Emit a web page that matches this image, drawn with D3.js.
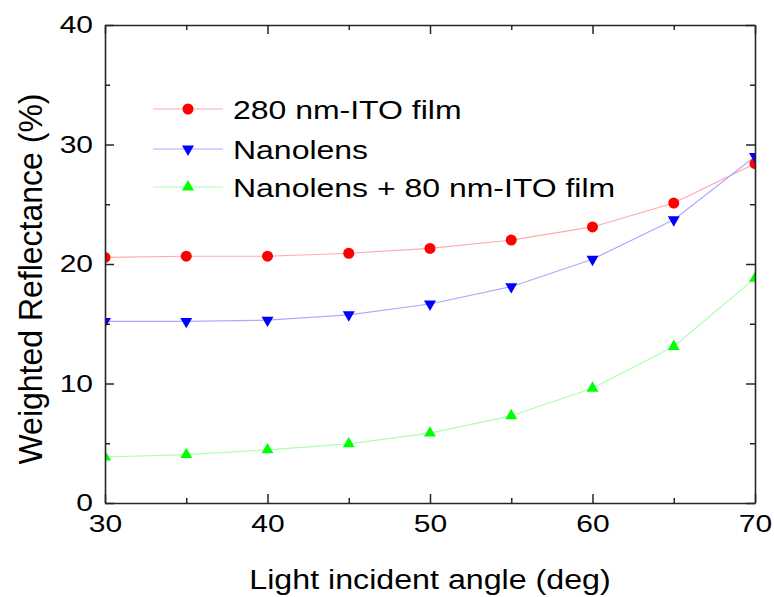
<!DOCTYPE html>
<html>
<head>
<meta charset="utf-8">
<script src="https://cdn.jsdelivr.net/npm/d3@7"></script>
<style>
  body { margin: 0; background: #fff; }
  svg text { font-family: "Liberation Sans", Arial, sans-serif; fill: #000; }
  .domain, .tick line { stroke: #262626; }
</style>
</head>
<body>
<script>
var angles = [30, 35, 40, 45, 50, 55, 60, 65, 70];
var ito280 = [20.55, 20.65, 20.65, 20.9, 21.3, 22.0, 23.1, 25.1, 28.4];
var nanolens = [15.2, 15.2, 15.3, 15.75, 16.65, 18.1, 20.4, 23.7, 29.0];
var nanolensIto = [3.85, 4.05, 4.45, 4.95, 5.85, 7.3, 9.6, 13.1, 18.8];

var seriesNames = ['280 nm-ITO film', 'Nanolens', 'Nanolens + 80 nm-ITO film'];
var xTicks = [30, 40, 50, 60, 70],
    xMinor = [35, 45, 55, 65],
    yTicks = [0, 10, 20, 30, 40],
    yMinor = [5, 15, 25, 35];

var width = 774, height = 597;
// plot box (note: "top" is reserved on window, so prefix these)
var pLeft = 105, pRight = 755, pTop = 25, pBottom = 503;
// text in the picture is drawn a bit wide
var tickStretch = 1.25, legendStretch = 1.23, titleStretch = 1.15;

var series = [
    {name: seriesNames[0], values: ito280, marker: 'circle', color: '#ff0000', line: '#ffaaaa'},
    {name: seriesNames[1], values: nanolens, marker: 'down', color: '#0000ff', line: '#aaaaff'},
    {name: seriesNames[2], values: nanolensIto, marker: 'up', color: '#00ff00', line: '#aaffaa'}
];

var svg = d3.select('body').append('svg')
    .attr('width', width)
    .attr('height', height);

var x = d3.scaleLinear().domain([30, 70]).range([pLeft, pRight]);
var y = d3.scaleLinear().domain([0, 40]).range([pBottom, pTop]);

svg.append('defs').append('clipPath')
    .attr('id', 'plot')
    .append('rect')
    .attr('x', pLeft).attr('y', pTop)
    .attr('width', pRight - pLeft).attr('height', pBottom - pTop);

function markerPath(kind) {
    if (kind === 'circle') return d3.symbol().type(d3.symbolCircle).size(95)();
    return d3.symbol().type(d3.symbolTriangle).size(62)();
}
function markerTransform(kind, px, py) {
    var t = 'translate(' + px + ',' + py + ')';
    if (kind === 'down') t += ' rotate(180)';
    return t;
}

var line = d3.line()
    .x(function(d, i) { return x(angles[i]); })
    .y(function(d) { return y(d); });

var plot = svg.append('g').attr('clip-path', 'url(#plot)');

series.forEach(function(s) {
    plot.append('path')
        .attr('d', line(s.values))
        .attr('fill', 'none')
        .attr('stroke', s.line)
        .attr('stroke-width', 1.2);
});
series.forEach(function(s) {
    plot.selectAll(null)
        .data(s.values).enter()
        .append('path')
        .attr('d', markerPath(s.marker))
        .attr('transform', function(d, i) { return markerTransform(s.marker, x(angles[i]), y(d)); })
        .attr('fill', s.color);
});

// axes, ticks inward on all four sides
function stretchText(sel) {
    sel.selectAll('text').each(function() {
        var t = d3.select(this);
        var tx = +t.attr('x') || 0, ty = +t.attr('y') || 0;
        t.attr('transform', 'translate(' + tx + ',' + ty + ') scale(' + tickStretch + ',1)')
            .attr('x', 0).attr('y', 0);
    });
}

function addAxis(axisFn, scale, major, minor, tx, ty, labels) {
    var g = svg.append('g').attr('transform', 'translate(' + tx + ',' + ty + ')');
    g.append('g').call(axisFn(scale).tickValues(minor).tickSize(-5).tickFormat(''))
        .call(function(a) { a.select('.domain').remove(); });
    var m = g.append('g').call(axisFn(scale).tickValues(major).tickSize(-9).tickSizeOuter(0)
        .tickPadding(12).tickFormat(labels ? d3.format('d') : ''));
    m.selectAll('text').style('font-size', '24px');
    stretchText(m);
    g.selectAll('line').attr('stroke-width', 1.5);
    g.selectAll('.domain').attr('stroke-width', 1.6);
    return g;
}

addAxis(d3.axisBottom, x, xTicks, xMinor, 0, pBottom, true);
addAxis(d3.axisTop, x, xTicks, xMinor, 0, pTop, false);
addAxis(d3.axisLeft, y, yTicks, yMinor, pLeft, 0, true);
addAxis(d3.axisRight, y, yTicks, yMinor, pRight, 0, false);

// axis titles
svg.append('text')
    .attr('transform', 'translate(' + ((pLeft + pRight) / 2) + ',589) scale(' + titleStretch + ',1)')
    .attr('text-anchor', 'middle')
    .style('font-size', '28px')
    .text('Light incident angle (deg)');

svg.append('text')
    .attr('transform', 'translate(42,279) scale(1.05,1) rotate(-90)')
    .attr('text-anchor', 'middle')
    .style('font-size', '32px')
    .text('Weighted Reflectance (%)');

// legend
var legend = svg.append('g').selectAll('g')
    .data(series).enter()
    .append('g')
    .attr('transform', function(d, i) { return 'translate(153,' + [109, 149, 187][i] + ')'; });

legend.append('line')
    .attr('x1', 0).attr('x2', 70)
    .attr('stroke', function(d) { return d.line; })
    .attr('stroke-width', 1.2);

legend.append('path')
    .attr('d', function(d) { return markerPath(d.marker); })
    .attr('transform', function(d) { return markerTransform(d.marker, 35, 0); })
    .attr('fill', function(d) { return d.color; });

legend.append('text')
    .attr('transform', 'translate(80,9.5) scale(' + legendStretch + ',1)')
    .style('font-size', '26px')
    .text(function(d) { return d.name; });
</script>
</body>
</html>
